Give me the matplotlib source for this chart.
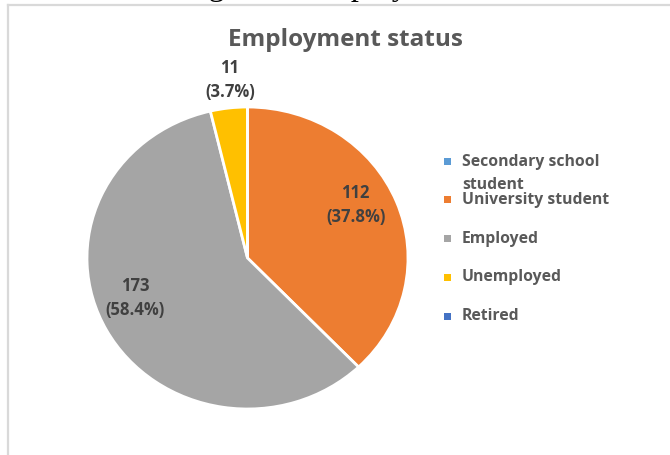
import matplotlib.pyplot as plt
from matplotlib.lines import Line2D
from matplotlib.patches import Rectangle
import numpy as np

# Data
categories = ['Secondary school\nstudent', 'University student', 'Employed', 'Unemployed', 'Retired']
counts = [0, 112, 173, 11, 0]
colors = ['#5B9BD5', '#ED7D31', '#A5A5A5', '#FFC000', '#4472C4']
# label placement (radius, angle shift in degrees) per slice
label_radius = [0.0, 0.76, 0.75, 1.185, 0.0]
label_shift = [0, 5.7, -8, -1.4, 0]

W, H = 670, 455
fig = plt.figure(figsize=(W / 100, H / 100), dpi=100)

# caption of the page, mostly cut off at the top
fig.text(182 / W, (H + 4.5) / H, 'Figure 4: Employment status', family='Liberation Serif',
         fontsize=23, color='black', va='baseline', ha='left')

# chart frame (light gray)
fig.add_artist(Line2D([7.5 / W, 7.5 / W], [0, (H - 4.5) / H], color='#D9D9D9', lw=1.6))
fig.add_artist(Line2D([7.5 / W, 1], [(H - 4.5) / H, (H - 4.5) / H], color='#D9D9D9', lw=1.6))

# Title
fig.text(345 / W, (H - 40) / H, 'Employment status', family='Open Sans', fontweight='bold',
         fontsize=17.5, color='#595959', ha='center', va='center')

# pie area (slightly stretched horizontally like the original)
ax = fig.add_axes([87 / W, (H - 409) / H, 321 / W, 302 / H])
wedges, _ = ax.pie(counts, colors=colors, startangle=90, counterclock=False,
                   wedgeprops=dict(edgecolor='white', linewidth=2))
ax.set_aspect('auto')
ax.set_xlim(-1, 1)
ax.set_ylim(-1, 1)
ax.axis('off')

total = sum(counts)
for w, c, r, s in zip(wedges, counts, label_radius, label_shift):
    if c == 0:
        continue
    mid = np.deg2rad((w.theta1 + w.theta2) / 2 + s)
    ax.text(r * np.cos(mid), r * np.sin(mid), f'{c}\n({c / total * 100:.1f}%)',
            ha='center', va='center', family='Open Sans', fontweight='bold',
            fontsize=12, color='#404040', linespacing=1.4)

# Legend drawn by hand
leg_x = 447
leg_y0 = 161
step = 38.8
for i, (lab, col) in enumerate(zip(categories, colors)):
    y = leg_y0 + i * step
    fig.add_artist(Rectangle(((leg_x - 3.5) / W, (H - y - 3.5) / H), 7 / W, 7 / H,
                             facecolor=col, edgecolor='none', transform=fig.transFigure))
    if '\n' in lab:
        fig.text((leg_x + 15) / W, (H - y + 6.5) / H, lab, family='Open Sans', fontweight='bold',
                 fontsize=11.3, color='#595959', ha='left', va='top', linespacing=1.58)
    else:
        fig.text((leg_x + 15) / W, (H - y) / H, lab, family='Open Sans', fontweight='bold',
                 fontsize=11.3, color='#595959', ha='left', va='center')

fig.savefig('out.png', dpi=100)
